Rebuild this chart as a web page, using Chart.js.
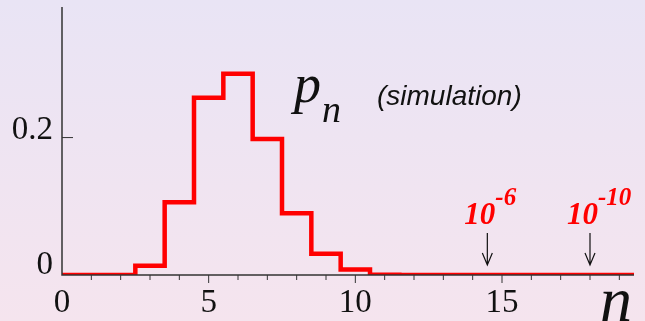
<!DOCTYPE html>
<html>
<head>
<meta charset="utf-8">
<script src="https://cdn.jsdelivr.net/npm/chart.js@4/dist/chart.umd.min.js"></script>
<style>
  html, body { margin: 0; padding: 0; }
  body { width: 645px; height: 321px; background: linear-gradient(#e9e4f5, #f5e4ee); }
  #wrap { position: relative; width: 645px; height: 321px; }
</style>
</head>
<body>
<div id="wrap"><canvas id="pnChart"></canvas></div>
<script>
// p_n histogram (simulation), one bin per n
const nValues = [0, 1, 2, 3, 4, 5, 6, 7, 8, 9, 10, 11, 12, 13, 14, 15, 16, 17, 18, 19, 20];
const pnValues = [0, 0, 0, 0.0135, 0.106, 0.258, 0.293, 0.198, 0.090, 0.031, 0.008,
                  0.0005, 0, 0, 0, 0, 0, 0, 0, 0, 0];
const xTickLabels = [0, 5, 10, 15];
const yTickLabels = [0, 0.2];
// small-probability markers
const markerN = [14.5, 18];
const markerExp = ['-6', '-10'];

const X_MAX = 19.5;
const Y_MAX = 0.39;

const axesPlugin = {
  id: 'axesPlugin',
  afterDatasetsDraw(chart) {
    const { ctx, chartArea: a, scales: { x, y } } = chart;
    ctx.save();
    // axes
    ctx.strokeStyle = '#333';
    ctx.lineWidth = 1.5;
    ctx.beginPath();
    ctx.moveTo(a.left, a.top);
    ctx.lineTo(a.left, a.bottom);
    ctx.lineTo(a.right, a.bottom);
    ctx.stroke();
    // x ticks, one per unit
    ctx.lineWidth = 1;
    ctx.beginPath();
    for (let n = 1; n <= Math.floor(X_MAX); n++) {
      const px = x.getPixelForValue(n);
      ctx.moveTo(px, a.bottom);
      ctx.lineTo(px, a.bottom + (n % 5 === 0 ? 8 : 5));
    }
    // y tick at 0.2 points inward
    const py2 = y.getPixelForValue(0.2);
    ctx.moveTo(a.left, py2);
    ctx.lineTo(a.left + 11, py2);
    ctx.stroke();

    // tick labels
    ctx.fillStyle = '#111';
    ctx.font = '33px "Liberation Serif", serif';
    ctx.textAlign = 'center';
    ctx.textBaseline = 'alphabetic';
    xTickLabels.forEach(v => ctx.fillText(String(v), x.getPixelForValue(v), a.bottom + 37));
    ctx.textAlign = 'right';
    ctx.fillText(String(yTickLabels[1]), a.left - 9, y.getPixelForValue(yTickLabels[1]) + 1);
    ctx.fillText(String(yTickLabels[0]), a.left - 9, y.getPixelForValue(yTickLabels[0]) - 1);

    // axis title n
    ctx.textAlign = 'left';
    ctx.font = 'italic 64px "Liberation Serif", serif';
    ctx.fillText('n', 600, 321);

    // series label
    ctx.font = 'italic 54px "Liberation Serif", serif';
    ctx.fillText('p', 294, 102);
    ctx.font = 'italic 38px "Liberation Serif", serif';
    ctx.fillText('n', 322, 122);
    ctx.font = 'italic 28px "Liberation Sans", sans-serif';
    ctx.fillText('(simulation)', 377, 105);

    // markers: red 10^k with arrow down to the axis
    markerN.forEach((n, i) => {
      const px = x.getPixelForValue(n);
      ctx.fillStyle = '#ff0000';
      ctx.font = 'italic bold 31px "Liberation Serif", serif';
      ctx.textAlign = 'right';
      ctx.fillText('10', px + 8, 224);
      ctx.textAlign = 'left';
      ctx.font = 'italic bold 25px "Liberation Serif", serif';
      ctx.fillText(markerExp[i], px + 8, 205);

      ctx.strokeStyle = '#111';
      ctx.lineWidth = 1.2;
      ctx.beginPath();
      ctx.moveTo(px, 233);
      ctx.lineTo(px, 265);
      ctx.moveTo(px - 5, 253);
      ctx.lineTo(px, 265);
      ctx.lineTo(px + 5, 253);
      ctx.stroke();
    });
    ctx.restore();
  }
};

const ctx = document.getElementById('pnChart');
new Chart(ctx, {
  type: 'line',
  data: {
    datasets: [{
      data: nValues.map((n, i) => ({ x: n, y: pnValues[i] })),
      borderColor: '#ff0000',
      borderWidth: 4.5,
      stepped: 'middle',
      pointRadius: 0,
      fill: false
    }]
  },
  options: {
    responsive: true,
    maintainAspectRatio: false,
    animation: false,
    layout: { padding: { left: 62, right: 11, top: 7, bottom: 46 } },
    plugins: { legend: { display: false }, tooltip: { enabled: false } },
    scales: {
      x: { type: 'linear', min: 0, max: X_MAX, display: false },
      y: { min: 0, max: Y_MAX, display: false }
    }
  },
  plugins: [axesPlugin]
});
</script>
</body>
</html>
